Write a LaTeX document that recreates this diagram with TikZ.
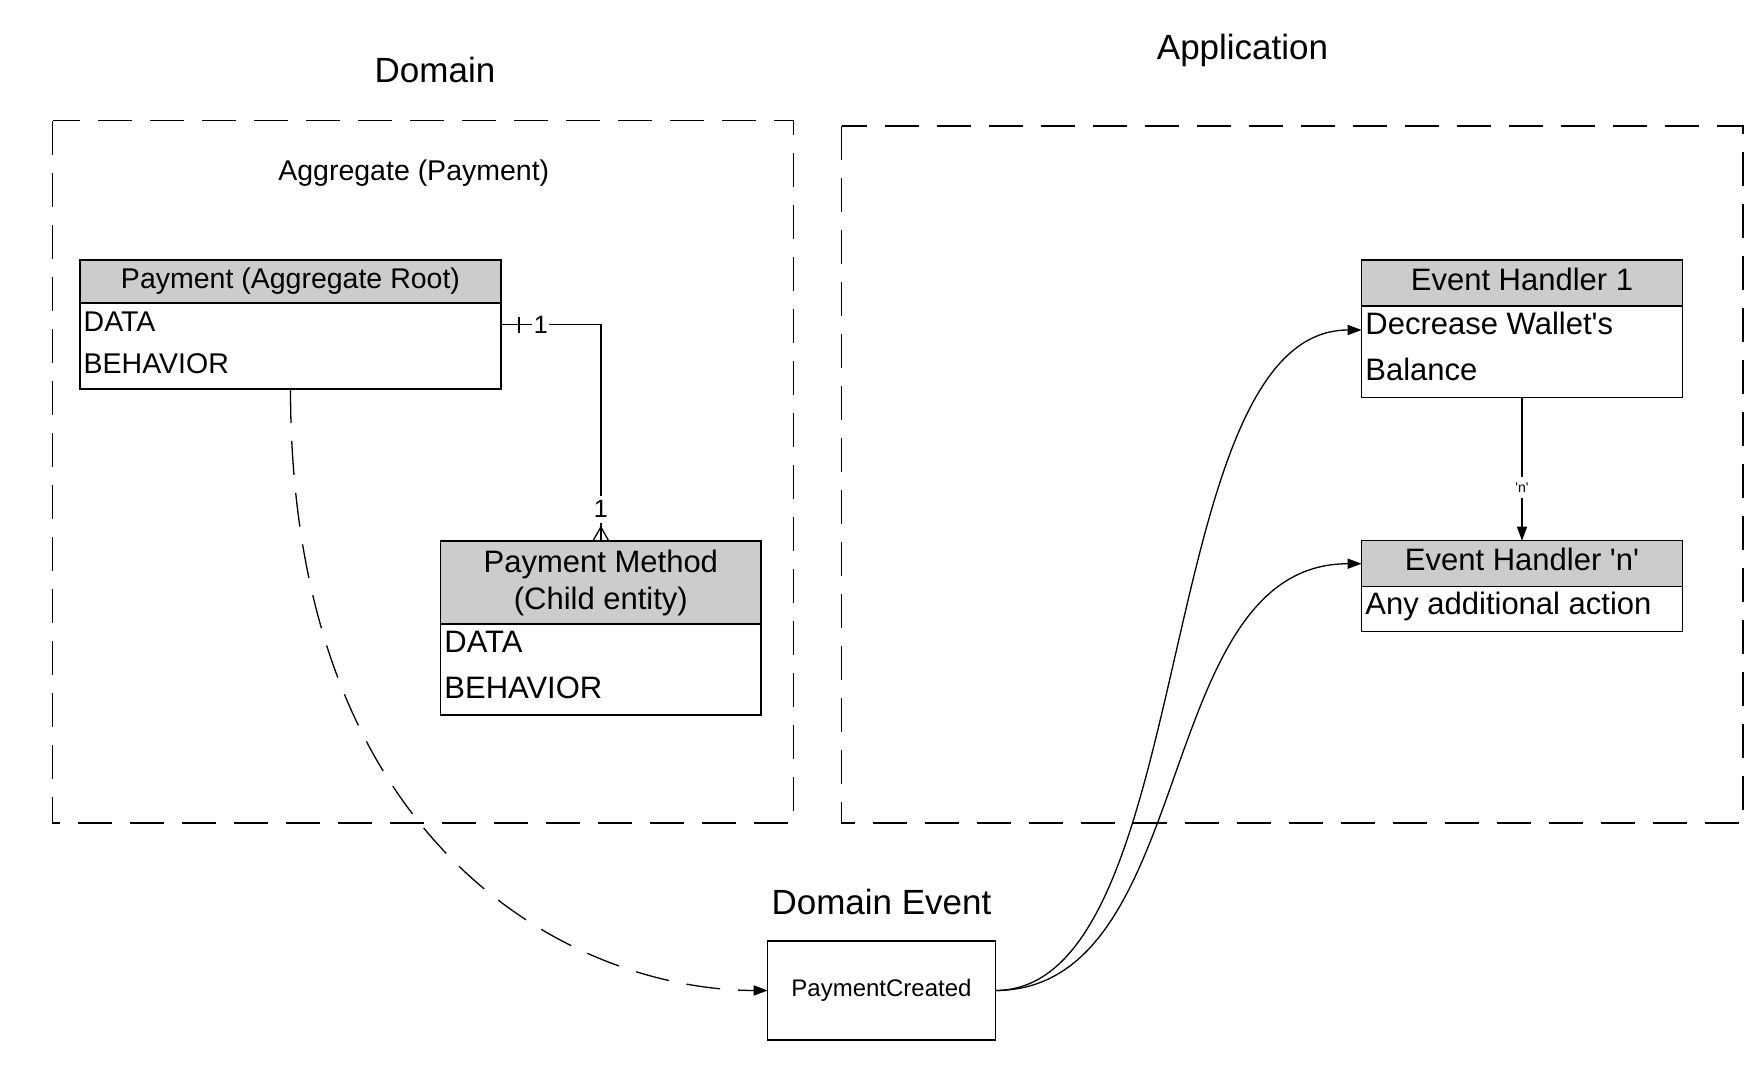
\documentclass[tikz,border=0pt]{standalone}
\usepackage{fontspec}
\setmainfont{Liberation Sans}[Ligatures=TeXOff]
\usetikzlibrary{positioning,arrows.meta}
\definecolor{hdrgray}{RGB}{204,204,204}
\newcommand\sizeL{\fontsize{35pt}{42pt}\selectfont}
\newcommand\sizeM{\fontsize{31pt}{37pt}\selectfont}
\newcommand\sizeR{\fontsize{28.5pt}{34pt}\selectfont}
\newcommand\sizeS{\fontsize{24pt}{29pt}\selectfont}
\newcommand\sizeT{\fontsize{14pt}{17pt}\selectfont}

\begin{document}
\begin{tikzpicture}[
  x=1pt, y=-1pt,
  frame/.style={draw, line width=1.5pt, dash pattern=on 34pt off 18pt},
  title/.style={font=\sizeL},
  hdr/.style={draw, fill=hdrgray, line width=1.5pt, inner sep=0pt, outer sep=0pt, align=center},
  hdrhigh/.style={hdr, text height=22pt, text depth=8pt},
  body/.style={draw, line width=1.5pt, inner sep=0pt, outer sep=0pt},
  field/.style={anchor=base west, inner sep=0pt},
  link/.style={line width=1.3pt},
  arr/.style={link, -{Triangle[length=14pt,width=10pt]}},
  mult/.style={fill=white, inner xsep=1.5pt, inner ysep=5pt, font=\fontsize{25pt}{30pt}\selectfont},
  nlabel/.style={fill=white, inner xsep=1pt, inner ysep=5.5pt, font=\sizeT}
]
\useasboundingbox (0,0) rectangle (1763,1069);

% layers
\draw[frame] (52.5,120.5) rectangle (793.5,823);
\draw[frame] (841.5,126) rectangle (1743,823);
\node[title] (domaintitle) at (435,69.7) {Domain};
\node[title] (apptitle) at (1242.5,50.6) {Application};
\node[font=\sizeR] (aggtitle) at (413.8,173) {Aggregate (Payment)};

% aggregate root
\node[hdr, minimum width=421pt, minimum height=43pt, font=\sizeR] (roothdr) at (290.5,281.5) {Payment (Aggregate Root)};
\node[body, minimum width=421pt, minimum height=86pt, below=0pt of roothdr] (rootbody) {};
\node[field, font=\sizeR] (rootdata) at ([xshift=3.5pt,yshift=-28.7pt]rootbody.north west) {DATA};
\node[field, font=\sizeR] (rootbehav) at ([xshift=3.5pt,yshift=-70.5pt]rootbody.north west) {BEHAVIOR};

% child entity
\node[hdr, minimum width=320.3pt, minimum height=83pt, font=\sizeM] (pmhdr) at (600.85,582.5) {Payment Method\\(Child entity)};
\node[body, minimum width=320.3pt, minimum height=91pt, below=0pt of pmhdr] (pmbody) {};
\node[field, font=\sizeM] (pmdata) at ([xshift=3.5pt,yshift=-28.7pt]pmbody.north west) {DATA};
\node[field, font=\sizeM] (pmbehav) at ([xshift=3.5pt,yshift=-74.3pt]pmbody.north west) {BEHAVIOR};

% handlers
\node[hdrhigh, minimum width=320.6pt, minimum height=46pt, font=\sizeM] (eh1hdr) at (1522,283) {Event Handler 1};
\node[body, minimum width=320.6pt, minimum height=91.7pt, below=0pt of eh1hdr] (eh1body) {};
\node[field, font=\sizeM] (eh1line1) at ([xshift=3.5pt,yshift=-28pt]eh1body.north west) {Decrease Wallet's};
\node[field, font=\sizeM] (eh1line2) at ([xshift=3.5pt,yshift=-74pt]eh1body.north west) {Balance};

\node[hdrhigh, minimum width=320.6pt, minimum height=46pt, font=\sizeM] (ehnhdr) at (1522,563.7) {Event Handler 'n'};
\node[body, minimum width=320.6pt, minimum height=45pt, below=0pt of ehnhdr] (ehnbody) {};
\node[field, font=\sizeM] (ehnline1) at ([xshift=3.5pt,yshift=-27.5pt]ehnbody.north west) {Any additional action};

% domain event
\node[title] (eventtitle) at (881.5,901.8) {Domain Event};
\node[body, minimum width=227.6pt, minimum height=99pt, font=\sizeS] (event) at (881.5,990.5) {PaymentCreated};

% root -- child (1 : 1)
\coordinate (rootport) at ([yshift=-21.5pt]rootbody.north east);
\coordinate (crow) at ([yshift=14pt]pmhdr.north);
\draw[link] (rootport) -| node[mult, pos=0.2] (multroot) {1} node[mult, pos=0.956] (multchild) {1} (crow);
\draw[link] ([xshift=18pt,yshift=8pt]rootport) -- ([xshift=18pt,yshift=-8pt]rootport);
\draw[link] ([xshift=-8pt]pmhdr.north) -- (crow) -- ([xshift=8pt]pmhdr.north);
\draw[link] (crow) -- (pmhdr.north);

% event flow
\draw[arr, dash pattern=on 34pt off 18pt] (rootbody.south) .. controls (290.5,850) and (575,990) .. (event.west);
\draw[arr] (event.east) .. controls (1200,990) and (1150,330) .. ([yshift=-24pt]eh1body.north west);
\draw[arr] (event.east) .. controls (1200,990) and (1150,563.7) .. (ehnhdr.west);
\draw[arr] (eh1body.south) -- node[nlabel, pos=0.628] (nmark) {'n'} (ehnhdr.north);
\end{tikzpicture}
\end{document}
